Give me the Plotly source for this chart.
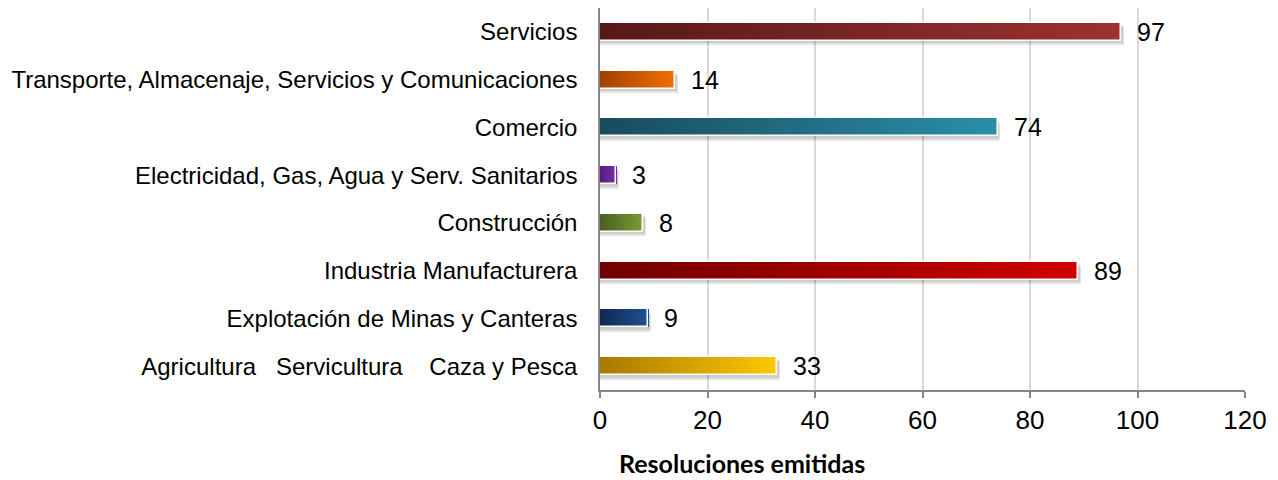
import plotly.graph_objects as go

categories = [
    "Servicios",
    "Transporte, Almacenaje, Servicios y Comunicaciones",
    "Comercio",
    "Electricidad, Gas, Agua y Serv. Sanitarios",
    "Construcción",
    "Industria Manufacturera",
    "Explotación de Minas y Canteras",
    "Agricultura\u00a0\u00a0\u00a0Servicultura\u00a0\u00a0\u00a0\u00a0Caza y Pesca",
]
values = [97, 14, 74, 3, 8, 89, 9, 33]
x_ticks = [0, 20, 40, 60, 80, 100, 120]
axis_title = "Resoluciones emitidas"

# gradient colors (left dark -> right light) per bar
dark_colors = [(0x58, 0x18, 0x18), (0xa0, 0x40, 0x00), (0x18, 0x4c, 0x5c), (0x58, 0x18, 0x80),
               (0x48, 0x5e, 0x20), (0x70, 0x00, 0x00), (0x0f, 0x28, 0x50), (0xa8, 0x78, 0x00)]
light_colors = [(0x9c, 0x32, 0x32), (0xf2, 0x70, 0x00), (0x2a, 0x8e, 0xaa), (0x74, 0x30, 0xa4),
                (0x7c, 0x9c, 0x32), (0xd0, 0x00, 0x00), (0x20, 0x50, 0x90), (0xff, 0xc8, 0x00)]

BW = 0.38
N = 40

fig = go.Figure()

# soft shadow
fig.add_trace(go.Bar(
    y=categories, x=[v + 0.5 for v in values], orientation="h",
    width=BW, offset=-BW / 2 + 0.09,
    marker=dict(color="rgba(0,0,0,0.10)", line=dict(width=0)),
    hoverinfo="skip", showlegend=False,
))
fig.add_trace(go.Bar(
    y=categories, x=[v + 0.3 for v in values], orientation="h",
    width=BW, offset=-BW / 2 + 0.05,
    marker=dict(color="rgba(0,0,0,0.10)", line=dict(width=0)),
    hoverinfo="skip", showlegend=False,
))

# gradient segments
for k in range(N):
    t = (k + 0.5) / N
    cols = []
    for d, l in zip(dark_colors, light_colors):
        c = tuple(round(d[i] + (l[i] - d[i]) * t) for i in range(3))
        cols.append("rgb(%d,%d,%d)" % c)
    fig.add_trace(go.Bar(
        y=categories, x=[v / N * 1.0005 for v in values], base=[v * k / N for v in values],
        orientation="h", width=BW, offset=-BW / 2,
        marker=dict(color=cols, line=dict(width=0)),
        hoverinfo="skip", showlegend=False,
    ))

# white outline
fig.add_trace(go.Bar(
    y=categories, x=values, orientation="h", width=BW, offset=-BW / 2,
    marker=dict(color="rgba(0,0,0,0)", line=dict(color="white", width=1.5)),
    hoverinfo="skip", showlegend=False,
))

for c, v in zip(categories, values):
    fig.add_annotation(x=v, y=c, text=str(v), showarrow=False, xanchor="left",
                       xshift=14, yshift=0,
                       font=dict(family="Liberation Sans, Arial", size=25, color="#000"))

fig.add_annotation(x=(742 - 600) / 645, y=0, xref="paper", yref="paper", yshift=-73,
                   text="<b>" + axis_title + "</b>", showarrow=False,
                   xanchor="center", yanchor="middle",
                   font=dict(family="Lato, Open Sans", size=25, color="#000"))

fig.update_layout(
    width=1278, height=480,
    margin=dict(l=600, r=33, t=8, b=90),
    barmode="overlay", bargap=0,
    plot_bgcolor="white", paper_bgcolor="white",
    showlegend=False,
    font=dict(family="Liberation Sans, Arial", color="#000"),
)
fig.update_xaxes(
    range=[0, 120], tickvals=x_ticks, ticktext=[str(t) for t in x_ticks],
    showgrid=True, gridcolor="#d9d9d9", gridwidth=1.5,
    showline=True, linecolor="#868686", linewidth=1.5,
    ticks="outside", ticklen=6, tickcolor="#868686", tickwidth=1.5,
    tickfont=dict(size=26, family="Liberation Sans, Arial"),
    zeroline=False, fixedrange=True,
)
fig.update_yaxes(
    autorange="reversed", showgrid=False,
    showline=True, linecolor="#868686", linewidth=1.5,
    ticks="", ticklabelstandoff=16,
    tickfont=dict(size=24, family="Liberation Sans, Arial"),
    fixedrange=True,
)

fig.write_html("out.html", config={"displayModeBar": False},
               post_script="document.body.style.margin='0';document.body.style.overflow='hidden';")
